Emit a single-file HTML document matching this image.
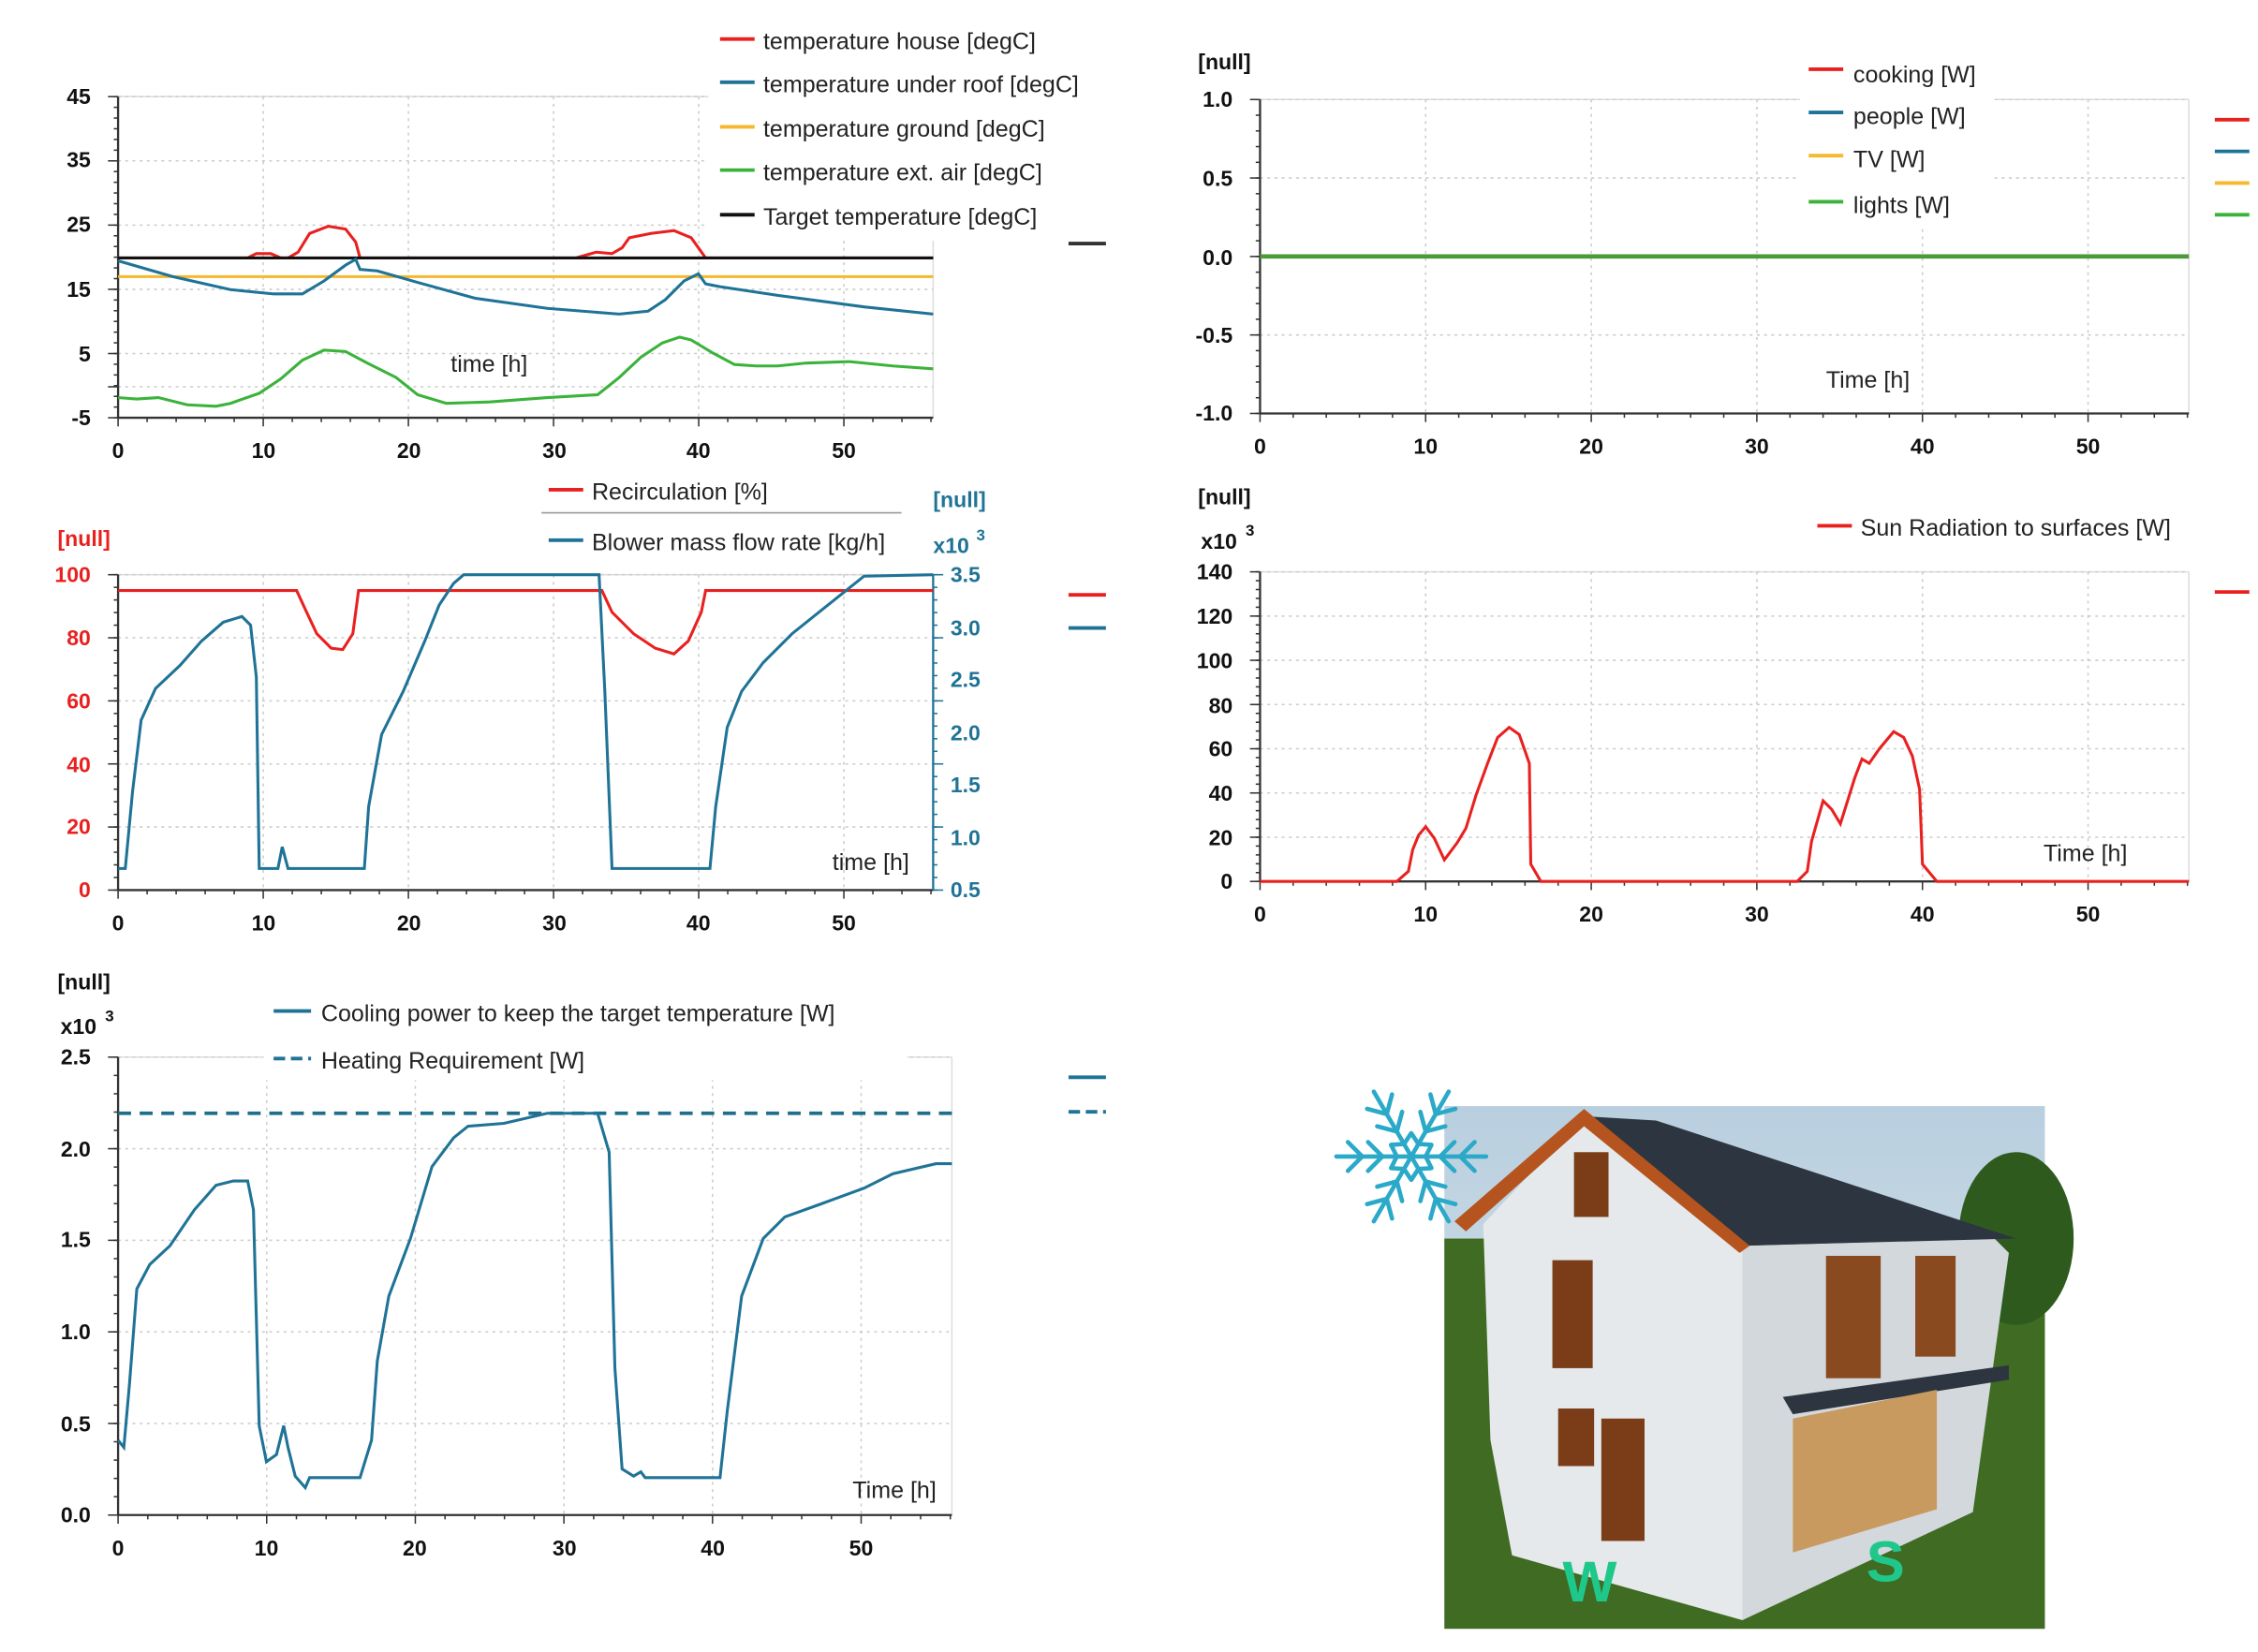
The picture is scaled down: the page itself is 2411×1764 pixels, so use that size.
<!DOCTYPE html>
<html><head><meta charset="utf-8"><style>
html,body{margin:0;padding:0;background:#fff}
svg{display:block}
text{font-family:"Liberation Sans",sans-serif}
.t{font-size:15px;font-weight:bold;fill:#111}
.l{font-size:16.3px;fill:#222}
</style></head><body>
<svg id="s" width="2411" height="1764" viewBox="0 0 1568 1147" xmlns="http://www.w3.org/2000/svg">
<rect width="1568" height="1147" fill="#fff"/>
<g id="grids"></g>

<!-- Plot 1 -->
<polyline fill="none" stroke="#f5b82e" stroke-width="2" points="82,192 648,192"/>
<polyline fill="none" stroke="#e8211f" stroke-width="2" points="82,179 172,179 178,176 188,176 195,179 200,179 207,175 215,162 228,157 240,159 247,168 250,179 400,179 414,175 425,176 432,172 437,165 452,162 468,160 480,165 490,179 648,179"/>
<polyline fill="none" stroke="#111" stroke-width="2" points="82,179 648,179"/>
<polyline fill="none" stroke="#1f7396" stroke-width="2" points="82,181 120,192 160,201 190,204 210,204 225,195 240,184 247,180 250,187 262,188 290,196 330,207 380,214 430,218 450,216 462,208 475,195 485,190 490,197 500,199 540,205 600,213 648,218"/>
<polyline fill="none" stroke="#3bb33b" stroke-width="2" points="82,276 95,277 110,276 130,281 150,282 160,280 180,273 195,263 210,250 225,243 240,244 255,252 275,262 290,274 310,280 340,279 380,276 415,274 430,262 445,248 460,238 472,234 480,236 495,245 510,253 525,254 540,254 560,252 590,251 620,254 648,256"/>
<g class="t" text-anchor="end"><text x="63" y="72">45</text><text x="63" y="116">35</text><text x="63" y="161">25</text><text x="63" y="206">15</text><text x="63" y="251">5</text><text x="63" y="295">-5</text></g>
<g class="t" text-anchor="middle"><text x="82" y="318">0</text><text x="183" y="318">10</text><text x="284" y="318">20</text><text x="385" y="318">30</text><text x="485" y="318">40</text><text x="586" y="318">50</text></g>
<text class="l" x="313" y="258">time [h]</text>
<rect x="492" y="12" width="272" height="155" fill="#fff"/>
<g class="l"><text x="530" y="34">temperature house [degC]</text><text x="530" y="64">temperature under roof [degC]</text><text x="530" y="95">temperature ground [degC]</text><text x="530" y="125">temperature ext. air [degC]</text><text x="530" y="156">Target temperature [degC]</text></g>
<g stroke-width="2.5"><line x1="500" y1="27" x2="524" y2="27" stroke="#e8211f"/><line x1="500" y1="57" x2="524" y2="57" stroke="#1f7396"/><line x1="500" y1="88" x2="524" y2="88" stroke="#f5b82e"/><line x1="500" y1="118" x2="524" y2="118" stroke="#3bb33b"/><line x1="500" y1="149" x2="524" y2="149" stroke="#111"/><line x1="742" y1="169" x2="768" y2="169" stroke="#333"/></g>

<!-- Plot 2 -->
<line x1="875" y1="178" x2="1520" y2="178" stroke="#4a9a3a" stroke-width="3"/>
<text class="t" x="832" y="48">[null]</text>
<g class="t" text-anchor="end"><text x="856" y="74">1.0</text><text x="856" y="129">0.5</text><text x="856" y="184">0.0</text><text x="856" y="238">-0.5</text><text x="856" y="292">-1.0</text></g>
<g class="t" text-anchor="middle"><text x="875" y="315">0</text><text x="990" y="315">10</text><text x="1105" y="315">20</text><text x="1220" y="315">30</text><text x="1335" y="315">40</text><text x="1450" y="315">50</text></g>
<text class="l" x="1268" y="269">Time [h]</text>
<rect x="1250" y="36" width="135" height="122" fill="#fff"/>
<g class="l"><text x="1287" y="57">cooking [W]</text><text x="1287" y="86">people [W]</text><text x="1287" y="116">TV [W]</text><text x="1287" y="148">lights [W]</text></g>
<g stroke-width="2.5"><line x1="1256" y1="48" x2="1280" y2="48" stroke="#e8211f"/><line x1="1256" y1="78" x2="1280" y2="78" stroke="#1f7396"/><line x1="1256" y1="108" x2="1280" y2="108" stroke="#f5b82e"/><line x1="1256" y1="140" x2="1280" y2="140" stroke="#3bb33b"/>
<line x1="1538" y1="83" x2="1562" y2="83" stroke="#e8211f"/><line x1="1538" y1="105" x2="1562" y2="105" stroke="#1f7396"/><line x1="1538" y1="127" x2="1562" y2="127" stroke="#f5b82e"/><line x1="1538" y1="149" x2="1562" y2="149" stroke="#3bb33b"/></g>

<!-- Plot 3 -->
<polyline fill="none" stroke="#e8211f" stroke-width="2" points="82,410 206,410 212,423 220,440 230,450 238,451 245,440 249,410 418,410 425,425 440,440 455,450 468,454 478,445 487,425 490,410 648,410"/>
<polyline fill="none" stroke="#1f7396" stroke-width="2" points="82,603 87,603 92,550 98,500 108,478 125,462 140,445 155,432 168,428 174,434 178,470 180,603 193,603 196,588 200,603 253,603 256,560 265,510 280,480 295,445 305,420 315,405 322,399 416,399 420,480 425,603 493,603 497,560 505,505 515,480 530,460 550,440 575,420 600,400 648,399"/>
<text class="t" x="40" y="379" style="fill:#e8211f">[null]</text>
<g class="t" text-anchor="end" style="fill:#e8211f"><text x="63" y="404">100</text><text x="63" y="448">80</text><text x="63" y="492">60</text><text x="63" y="536">40</text><text x="63" y="579">20</text><text x="63" y="623">0</text></g>
<g class="t" style="fill:#1f7396"><text x="648" y="352">[null]</text><text x="648" y="384">x10</text><text x="678" y="375" style="font-size:11px">3</text><text x="660" y="404">3.5</text><text x="660" y="441">3.0</text><text x="660" y="477">2.5</text><text x="660" y="514">2.0</text><text x="660" y="550">1.5</text><text x="660" y="587">1.0</text><text x="660" y="623">0.5</text></g>
<g class="t" text-anchor="middle"><text x="82" y="646">0</text><text x="183" y="646">10</text><text x="284" y="646">20</text><text x="385" y="646">30</text><text x="485" y="646">40</text><text x="586" y="646">50</text></g>
<text class="l" x="578" y="604">time [h]</text>
<rect x="374" y="328" width="252" height="62" fill="#fff"/>
<line x1="376" y1="356" x2="626" y2="356" stroke="#999"/>
<g class="l"><text x="411" y="347">Recirculation [%]</text><text x="411" y="382">Blower mass flow rate [kg/h]</text></g>
<g stroke-width="2.5"><line x1="381" y1="340" x2="405" y2="340" stroke="#e8211f"/><line x1="381" y1="375" x2="405" y2="375" stroke="#1f7396"/><line x1="742" y1="413" x2="768" y2="413" stroke="#e8211f"/><line x1="742" y1="436" x2="768" y2="436" stroke="#1f7396"/></g>

<!-- Plot 4 -->
<polyline fill="none" stroke="#e8211f" stroke-width="2" points="875,612 970,612 978,605 981,590 985,580 990,574 996,582 1003,597 1012,585 1018,575 1025,552 1033,530 1040,512 1048,505 1055,510 1062,530 1063,600 1070,612 1248,612 1255,605 1258,584 1266,556 1272,562 1278,572 1288,540 1293,527 1298,530 1305,520 1315,508 1322,512 1328,525 1333,548 1335,600 1345,612 1520,612"/>
<text class="t" x="832" y="350">[null]</text><text class="t" x="834" y="381">x10</text><text class="t" x="865" y="372" style="font-size:11px">3</text>
<g class="t" text-anchor="end"><text x="856" y="402">140</text><text x="856" y="433">120</text><text x="856" y="464">100</text><text x="856" y="495">80</text><text x="856" y="525">60</text><text x="856" y="556">40</text><text x="856" y="587">20</text><text x="856" y="617">0</text></g>
<g class="t" text-anchor="middle"><text x="875" y="640">0</text><text x="990" y="640">10</text><text x="1105" y="640">20</text><text x="1220" y="640">30</text><text x="1335" y="640">40</text><text x="1450" y="640">50</text></g>
<text class="l" x="1419" y="598">Time [h]</text>
<rect x="1255" y="352" width="258" height="26" fill="#fff"/>
<text class="l" x="1292" y="372">Sun Radiation to surfaces [W]</text>
<line x1="1262" y1="365" x2="1286" y2="365" stroke="#e8211f" stroke-width="2.5"/>
<line x1="1538" y1="411" x2="1562" y2="411" stroke="#e8211f" stroke-width="2.5"/>

<!-- Plot 5 -->
<line x1="82" y1="773" x2="661" y2="773" stroke="#1f6e8a" stroke-width="2.5" stroke-dasharray="9,6"/>
<polyline fill="none" stroke="#1f7396" stroke-width="2" points="82,1000 86,1005 90,960 95,895 104,878 118,865 135,840 150,823 162,820 172,820 176,840 180,990 185,1015 192,1010 197,990 200,1005 205,1025 212,1033 215,1026 250,1026 258,1000 262,945 270,900 285,860 300,810 315,790 325,782 350,780 380,773 415,773 423,800 427,950 432,1020 440,1025 445,1022 448,1026 500,1026 505,980 515,900 530,860 545,845 570,836 600,825 620,815 650,808 661,808"/>
<text class="t" x="40" y="687">[null]</text><text class="t" x="42" y="718">x10</text><text class="t" x="73" y="709" style="font-size:11px">3</text>
<g class="t" text-anchor="end"><text x="63" y="739">2.5</text><text x="63" y="803">2.0</text><text x="63" y="866">1.5</text><text x="63" y="930">1.0</text><text x="63" y="994">0.5</text><text x="63" y="1057">0.0</text></g>
<g class="t" text-anchor="middle"><text x="82" y="1080">0</text><text x="185" y="1080">10</text><text x="288" y="1080">20</text><text x="392" y="1080">30</text><text x="495" y="1080">40</text><text x="598" y="1080">50</text></g>
<text class="l" x="592" y="1040">Time [h]</text>
<rect x="183" y="688" width="447" height="62" fill="#fff"/>
<g class="l"><text x="223" y="709">Cooling power to keep the target temperature [W]</text><text x="223" y="742">Heating Requirement [W]</text></g>
<g stroke-width="2.5" stroke="#1f7396"><line x1="190" y1="702" x2="216" y2="702"/><line x1="190" y1="735" x2="216" y2="735" stroke-dasharray="8,4"/><line x1="742" y1="748" x2="768" y2="748"/><line x1="742" y1="772" x2="768" y2="772" stroke-dasharray="8,4"/></g>

<!-- House image -->
<defs><linearGradient id="sky" x1="0" y1="0" x2="0" y2="1"><stop offset="0" stop-color="#b9cfdf"/><stop offset="1" stop-color="#dfe8ec"/></linearGradient></defs>
<rect x="1003" y="768" width="417" height="363" fill="url(#sky)"/>
<rect x="1003" y="860" width="417" height="271" fill="#3f6b22"/>
<ellipse cx="1400" cy="860" rx="40" ry="60" fill="#2e5a1e"/>
<polygon points="1030,850 1100,775 1210,865 1210,1125 1050,1080 1035,1000" fill="#e6e9ec"/>
<polygon points="1210,865 1385,860 1395,870 1370,1050 1210,1125" fill="#d3d8dc"/>
<polygon points="1100,775 1150,778 1400,860 1210,865" fill="#2d3640"/>
<polygon points="1010,848 1100,770 1215,865 1208,870 1100,782 1018,855" fill="#b5541e"/>
<rect x="1093" y="800" width="24" height="45" fill="#7a3d18"/>
<rect x="1078" y="875" width="28" height="75" fill="#7a3d18"/>
<rect x="1082" y="978" width="25" height="40" fill="#7a3d18"/>
<rect x="1112" y="985" width="30" height="85" fill="#7a3d18"/>
<rect x="1268" y="872" width="38" height="85" fill="#8a4a20"/>
<rect x="1330" y="872" width="28" height="70" fill="#8a4a20"/>
<polygon points="1238,970 1395,948 1395,958 1245,982" fill="#2d3640"/>
<polygon points="1245,985 1345,965 1345,1048 1245,1078" fill="#c99a60"/>
<text x="1085" y="1112" style="font-size:40px;font-weight:bold;fill:#1fc88a">W</text>
<text x="1296" y="1098" style="font-size:40px;font-weight:bold;fill:#1fc88a">S</text>
<g id="flake" stroke="#2aa9c9" stroke-width="3" stroke-linecap="round" fill="none" transform="translate(980,803)"></g>
</svg>
<script>
var NS="http://www.w3.org/2000/svg",g=document.getElementById('grids');
function L(x1,y1,x2,y2,c,w,d){var e=document.createElementNS(NS,'line');e.setAttribute('x1',x1);e.setAttribute('y1',y1);e.setAttribute('x2',x2);e.setAttribute('y2',y2);e.setAttribute('stroke',c);e.setAttribute('stroke-width',w||1);if(d)e.setAttribute('stroke-dasharray',d);g.appendChild(e);}
function plot(x0,x1,y0,y1,xs,xstep,ys,minorY,right){
 L(x0,y0,x1,y0,'#ddd');L(x1,y0,x1,y1,'#ddd');
 for(var x=xs;x<=x1+0.1;x+=xstep)L(x,y0,x,y1,'#ccc',1,'2,3');
 for(var i=0;i<ys.length;i++)L(x0,ys[i],x1,ys[i],'#ccc',1,'2,3');
 for(var x=x0;x<=x1+0.1;x+=xstep/5)L(x,y1,x,y1+(Math.abs((x-x0)%xstep)<1||Math.abs((x-x0)%xstep-xstep)<1?6:3),'#333');
 var dy=(ys[ys.length-1]-ys[0])/(ys.length-1)/minorY;
 for(var y=ys[0];y<=y1+0.1;y+=dy){L(x0-3,y,x0,y,'#333');if(right)L(right,y,right+3,y,'#1f7396');}
 for(var i=0;i<ys.length;i++){L(x0-7,ys[i],x0,ys[i],'#333');if(right)L(right,ys[i],right+7,ys[i],'#1f7396');}
 L(x0,y0,x0,y1,'#333',1.5);L(x0,y1,x1,y1,'#333',1.5);if(right)L(right,y0,right,y1,'#1f7396',1.5);
}
function arr(a,b,n){var r=[];for(var i=0;i<n;i++)r.push(a+(b-a)*i/(n-1));return r;}
plot(82,648,67,290,82,100.8,arr(67,290,6).concat([268.5]).sort(function(a,b){return a-b}),5);
plot(875,1520,69,287,875,115,arr(69,287,5),5);
plot(82,648,399,618,82,100.8,arr(399,618,6),5,648);
plot(875,1520,397,612,875,115,arr(397,612,8),5);
plot(82,661,734,1052,82,103.2,arr(734,1052,6),5);
var f=document.getElementById('flake');
for(var k=0;k<6;k++){var a=k*Math.PI/3,c=Math.cos(a),s=Math.sin(a);
 function p(x,y){return [x*c-y*s,x*s+y*c];}
 var segs=[[0,0,52,0],[20,0,30,-10],[20,0,30,10],[34,0,44,-10],[34,0,44,10],[10,0,14,-8],[10,0,14,8]];
 segs.forEach(function(q){var A=p(q[0],q[1]),B=p(q[2],q[3]);var e=document.createElementNS(NS,'line');e.setAttribute('x1',A[0]);e.setAttribute('y1',A[1]);e.setAttribute('x2',B[0]);e.setAttribute('y2',B[1]);f.appendChild(e);});}
</script>
</body></html>
